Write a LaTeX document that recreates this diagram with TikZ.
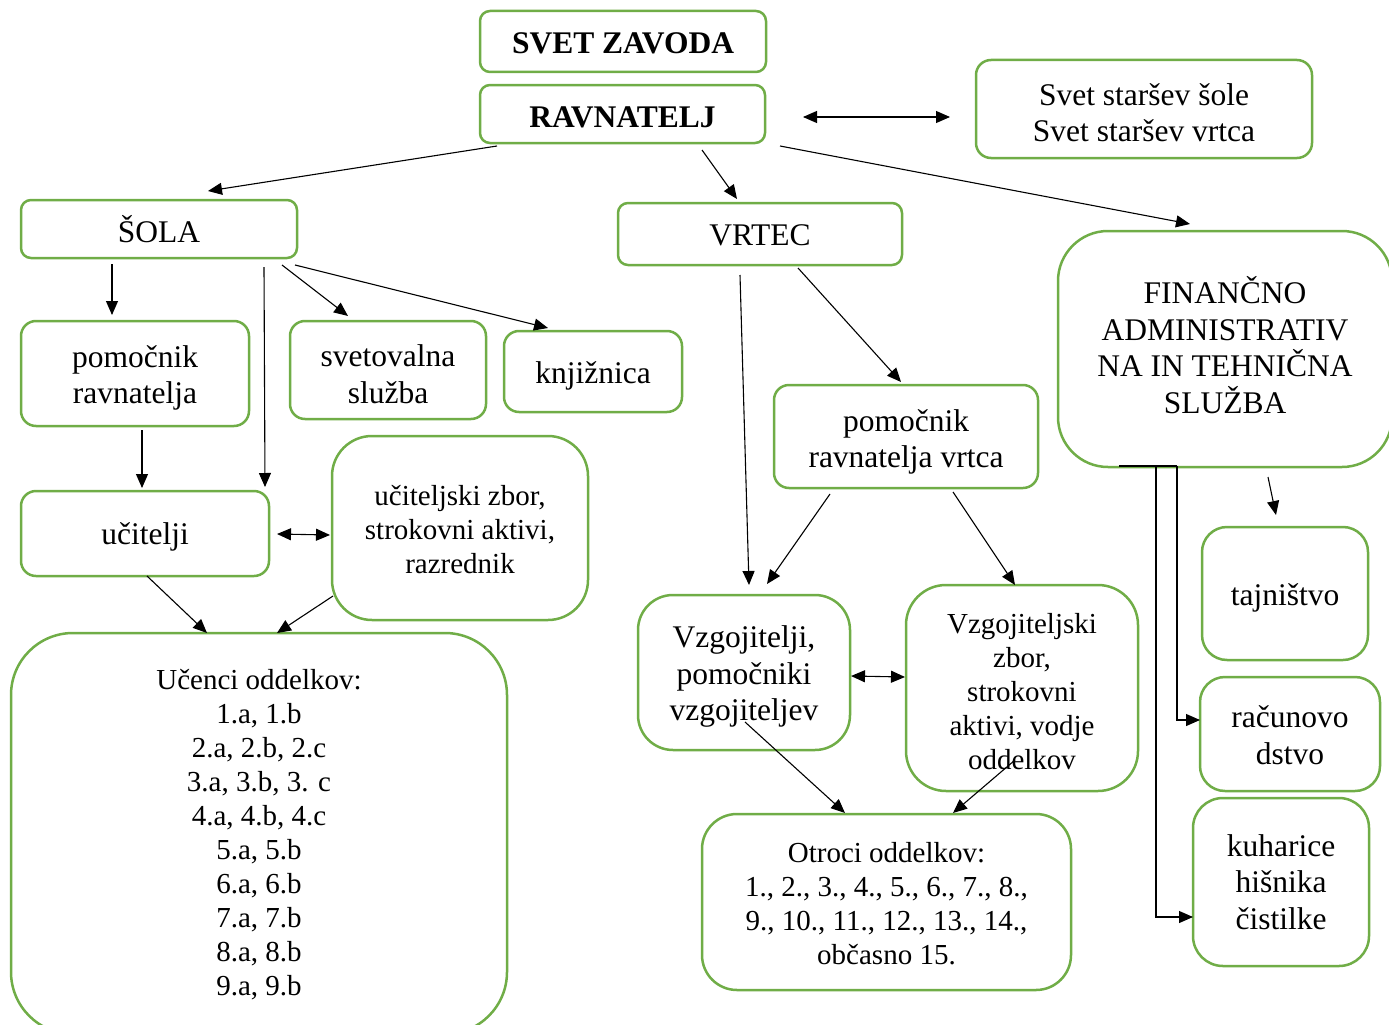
\documentclass[tikz,border=0pt]{standalone}
\usepackage{fontspec}
\setmainfont{Liberation Serif}
\usetikzlibrary{arrows.meta}
\definecolor{boxgreen}{HTML}{70AD47}
\tikzset{
 box/.style={draw=boxgreen, line width=2.5pt, inner sep=0pt, fill=white},
 txt/.style={align=center, inner sep=0pt},
 big/.style={txt, font=\fontsize{31.5}{36.5}\selectfont},
 small/.style={txt, font=\fontsize{29}{34}\selectfont},
 bigbold/.style={txt, font=\fontsize{31.5}{36.5}\selectfont\bfseries},
 arr/.style={line width=1.1pt, -{Triangle[length=14pt,width=12pt]}},
 darr/.style={line width=1.1pt, {Triangle[length=14pt,width=12pt]}-{Triangle[length=14pt,width=12pt]}},
 plain/.style={line width=1.1pt},
}
\begin{document}
\begin{tikzpicture}[x=1pt,y=-1pt]
\useasboundingbox (0,0) rectangle (1389,1025);
\clip (0,0) rectangle (1389,1025);
% boxes
\node[box,minimum width=286,minimum height=61,rounded corners=10] (svet) at (623,41.5) {};
\node[bigbold] (svett) at (623,43.5) {SVET ZAVODA};
\node[box,minimum width=285,minimum height=58,rounded corners=10] (ravn) at (622.5,114) {};
\node[bigbold] (ravnt) at (622.5,117) {RAVNATELJ};
\node[box,minimum width=336,minimum height=98,rounded corners=15] (starsi) at (1144,109) {};
\node[big] (starsit) at (1144,112.5) {Svet staršev šole\\Svet staršev vrtca};
\node[box,minimum width=276,minimum height=58,rounded corners=10] (sola) at (159,229) {};
\node[big] (solat) at (159,229.5) {ŠOLA};
\node[box,minimum width=284,minimum height=62,rounded corners=10] (vrtec) at (760,234) {};
\node[big] (vrtect) at (760,235.5) {VRTEC};
\node[box,minimum width=334,minimum height=236,rounded corners=50] (fin) at (1225,349) {};
\node[big] (fint) at (1225,345) {FINANČNO\\ADMINISTRATIV\\NA IN TEHNIČNA\\SLUŽBA};
\node[box,minimum width=228,minimum height=105,rounded corners=15] (pomr) at (135,373.5) {};
\node[big] (pomrt) at (135,378) {pomočnik\\ravnatelja};
\node[box,minimum width=196,minimum height=98,rounded corners=15] (svetov) at (388,370) {};
\node[big] (svetovt) at (388,374) {svetovalna\\služba};
\node[box,minimum width=178,minimum height=81,rounded corners=15] (knjiz) at (593,371.5) {};
\node[big] (knjizt) at (593,376) {knjižnica};
\node[box,minimum width=248,minimum height=85,rounded corners=15] (ucit) at (145,533.5) {};
\node[big] (ucitt) at (145,537) {učitelji};
\node[box,minimum width=256,minimum height=184,rounded corners=40] (uzbor) at (460,528) {};
\node[small] (uzbort) at (460,529.5) {učiteljski zbor,\\strokovni aktivi,\\razrednik};
\node[box,minimum width=496,minimum height=401,rounded corners=62] (ucenci) at (259,833.5) {};
\node[small] (ucencit) at (259,835) {Učenci oddelkov:\\1.a, 1.b\\2.a, 2.b, 2.c\\3.a, 3.b, 3. c\\4.a, 4.b, 4.c\\5.a, 5.b\\6.a, 6.b\\7.a, 7.b\\8.a, 8.b\\9.a, 9.b};
\node[box,minimum width=264,minimum height=103,rounded corners=15] (pomv) at (906,436.5) {};
\node[big] (pomvt) at (906,442) {pomočnik\\ravnatelja vrtca};
\node[box,minimum width=212,minimum height=155,rounded corners=35] (vzg) at (744,672.5) {};
\node[big] (vzgt) at (744,676.5) {Vzgojitelji,\\pomočniki\\vzgojiteljev};
\node[box,minimum width=232,minimum height=206,rounded corners=40] (vzbor) at (1022,688) {};
\node[small] (vzbort) at (1022,692) {Vzgojiteljski\\zbor,\\strokovni\\aktivi, vodje\\oddelkov};
\node[box,minimum width=369,minimum height=176,rounded corners=35] (otroci) at (886.5,902) {};
\node[small] (otrocit) at (886.5,904) {Otroci oddelkov:\\1., 2., 3., 4., 5., 6., 7., 8.,\\9., 10., 11., 12., 13., 14.,\\občasno 15.};
\node[box,minimum width=166,minimum height=133,rounded corners=25] (tajn) at (1285,593.5) {};
\node[big] (tajnt) at (1285,598) {tajništvo};
\node[box,minimum width=180,minimum height=114,rounded corners=25] (racun) at (1290,734) {};
\node[big] (racunt) at (1290,735) {računovo\\dstvo};
\node[box,minimum width=176,minimum height=168,rounded corners=30] (kuh) at (1281,882) {};
\node[big] (kuht) at (1281,882) {kuharice\\hišnika\\čistilke};
% connector end points
\coordinate (a1s) at (497,146); \coordinate (a1e) at (208,191);
\coordinate (a2s) at (702,150); \coordinate (a2e) at (737,199);
\coordinate (a3s) at (780,146); \coordinate (a3e) at (1190,224);
\coordinate (a4s) at (803,117); \coordinate (a4e) at (950,117);
\coordinate (b1s) at (112,264); \coordinate (b1e) at (112,315);
\coordinate (b2s) at (264,267); \coordinate (b2e) at (265,487);
\coordinate (b3s) at (282,265); \coordinate (b3e) at (348,316);
\coordinate (b4s) at (295,265); \coordinate (b4e) at (548,328);
\coordinate (b5s) at (142,430); \coordinate (b5e) at (142,488);
\coordinate (b6s) at (277,534); \coordinate (b6e) at (330,535);
\coordinate (b7s) at (147,576); \coordinate (b7e) at (207,633);
\coordinate (b8s) at (333,596); \coordinate (b8e) at (277,633);
\coordinate (c1s) at (740,275); \coordinate (c1e) at (749,585);
\coordinate (c2s) at (798,268); \coordinate (c2e) at (901,382);
\coordinate (c3s) at (830,494); \coordinate (c3e) at (767,584);
\coordinate (c4s) at (953,492); \coordinate (c4e) at (1015,585);
\coordinate (c5s) at (851,676); \coordinate (c5e) at (905,677);
\coordinate (c6s) at (745,722); \coordinate (c6e) at (845,813);
\coordinate (c7s) at (1015,760); \coordinate (c7e) at (953,813);
\coordinate (d1s) at (1268,477); \coordinate (d1e) at (1276,515);
\coordinate (e0) at (1119,466); \coordinate (e1) at (1177,466); \coordinate (e2) at (1156,466);
\coordinate (e1e) at (1200,720); \coordinate (e2e) at (1193,917);
% connectors
\draw[arr] (a1s) -- (a1e);
\draw[arr] (a2s) -- (a2e);
\draw[arr] (a3s) -- (a3e);
\draw[darr] (a4s) -- (a4e);
\draw[arr] (b1s) -- (b1e);
\draw[arr] (b2s) -- (b2e);
\draw[arr] (b3s) -- (b3e);
\draw[arr] (b4s) -- (b4e);
\draw[arr] (b5s) -- (b5e);
\draw[darr] (b6s) -- (b6e);
\draw[arr] (b7s) -- (b7e);
\draw[arr] (b8s) -- (b8e);
\draw[arr] (c1s) -- (c1e);
\draw[arr] (c2s) -- (c2e);
\draw[arr] (c3s) -- (c3e);
\draw[arr] (c4s) -- (c4e);
\draw[darr] (c5s) -- (c5e);
\draw[arr] (c6s) -- (c6e);
\draw[arr] (c7s) -- (c7e);
\draw[arr] (d1s) -- (d1e);
\draw[plain] (e0) -- (e1);
\draw[arr] (e1) |- (e1e);
\draw[arr] (e2) |- (e2e);
\end{tikzpicture}
\end{document}
